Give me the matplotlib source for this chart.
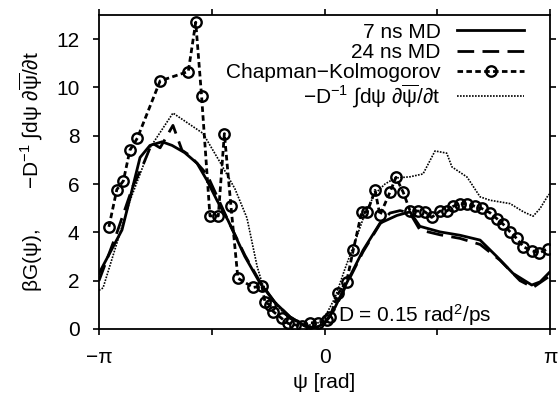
import matplotlib
matplotlib.use("Agg")
import matplotlib.pyplot as plt
import numpy as np

plt.rcParams["font.family"] = ["Liberation Sans", "DejaVu Sans"]
plt.rcParams["mathtext.fontset"] = "custom"
plt.rcParams["mathtext.rm"] = "Liberation Sans"
plt.rcParams["mathtext.it"] = "Liberation Sans"
plt.rcParams["mathtext.bf"] = "Liberation Sans:bold"

# psi in units of pi
md7_x = [-1.0, -0.898, -0.863, -0.818, -0.774, -0.72, -0.676, -0.62, -0.565,
         -0.521, -0.477, -0.428, -0.353, -0.286, -0.220, -0.153, -0.086,
         -0.042, 0.002, 0.047, 0.098, 0.171, 0.246, 0.321, 0.379, 0.423,
         0.512, 0.601, 0.690, 0.764, 0.836, 0.919, 0.956, 1.0]
md7_y = [2.3, 4.1, 5.4, 7.1, 7.6, 7.75, 7.6, 7.3, 6.86,
         6.15, 5.33, 4.5, 3.0, 1.9, 1.1, 0.5, 0.12,
         0.03, 0.25, 0.9, 1.9, 3.26, 4.38, 4.7, 4.85, 4.25,
         4.02, 3.88, 3.68, 3.0, 2.3, 1.82, 1.95, 2.37]

md24_x = [-1.0, -0.92, -0.85, -0.80, -0.765, -0.729, -0.672, -0.632, -0.60,
          -0.565, -0.521, -0.477, -0.428, -0.353, -0.286, -0.220, -0.153,
          -0.086, -0.042, 0.002, 0.047, 0.098, 0.171, 0.246, 0.290, 0.335,
          0.379, 0.423, 0.512, 0.601, 0.690, 0.778, 0.867, 0.925, 1.0]
md24_y = [2.0, 4.0, 5.9, 6.9, 7.7, 7.5, 8.43, 7.4, 7.2,
          6.86, 6.4, 5.5, 4.5, 3.05, 1.95, 1.1, 0.5,
          0.12, 0.05, 0.25, 0.85, 1.85, 3.2, 4.35, 4.8, 4.9,
          4.8, 4.1, 3.9, 3.75, 3.5, 2.85, 2.0, 1.72, 2.2]

ck_x = [-0.956, -0.921, -0.892, -0.863, -0.830, -0.729, -0.604, -0.571,
        -0.545, -0.508, -0.471, -0.444, -0.415, -0.384, -0.316, -0.278,
        -0.264, -0.242, -0.227, -0.190, -0.161, -0.131, -0.101, -0.064,
        -0.027, 0.010, 0.024, 0.061, 0.098, 0.128, 0.165, 0.190, 0.224,
        0.246, 0.290, 0.317, 0.349, 0.379, 0.416, 0.446, 0.475, 0.512,
        0.542, 0.571, 0.601, 0.632, 0.667, 0.697, 0.734, 0.764, 0.793,
        0.823, 0.852, 0.882, 0.919, 0.953, 0.992]
ck_y = [4.23, 5.77, 6.13, 7.4, 7.9, 10.27, 10.66, 12.7,
        9.63, 4.68, 4.68, 8.09, 5.1, 2.1, 1.72, 1.78,
        1.13, 0.99, 0.72, 0.44, 0.23, 0.17, 0.14, 0.26,
        0.23, 0.37, 0.51, 1.47, 1.96, 3.29, 4.85, 4.85, 5.74,
        4.71, 5.66, 6.28, 5.66, 4.9, 4.88, 4.85, 4.62, 4.88,
        4.88, 5.08, 5.19, 5.17, 5.08, 4.99, 4.81, 4.57, 4.33,
        4.02, 3.75, 3.4, 3.24, 3.15, 3.33]

int_x = [-1.0, -0.982, -0.863, -0.774, -0.672, -0.539, -0.463, -0.397,
         -0.344, -0.299, -0.277, -0.233, -0.175, -0.109, -0.042, 0.002,
         0.047, 0.091, 0.135, 0.180, 0.224, 0.268, 0.313, 0.379, 0.437,
         0.490, 0.542, 0.565, 0.632, 0.690, 0.734, 0.823, 0.882, 0.925,
         0.956, 0.992, 1.0]
int_y = [1.6, 1.7, 5.3, 7.5, 8.94, 8.1, 6.9, 5.8,
         4.6, 2.6, 1.9, 1.2, 0.6, 0.2, 0.15, 0.5,
         1.3, 2.5, 3.6, 4.8, 5.6, 6.0, 6.25, 6.3, 6.42,
         7.37, 7.28, 6.71, 6.29, 5.47, 5.33, 5.19, 4.85, 4.67,
         4.99, 5.54, 5.6]

labels = ["7 ns MD", "24 ns MD", "Chapman\u2212Kolmogorov",
          "\u2212D$^{\u22121}$ \u222bd\u03c8 \u2202$\\overline{\\psi}$/\u2202t"]

fs = 15

fig = plt.figure(figsize=(5.58, 4.05), dpi=100)
ax = fig.add_axes([0.1774, 0.1877, 0.8083, 0.7753])

ax.plot(np.array(md7_x) * np.pi, md7_y, color="black", lw=2.0,
        label=labels[0])
ax.plot(np.array(md24_x) * np.pi, md24_y, color="black", lw=2.0,
        dashes=(6, 3), label=labels[1])
ax.plot(np.array(ck_x) * np.pi, ck_y, color="black", lw=2.0,
        dashes=(2, 1.2), marker="o", ms=7.5, mfc="none", mew=1.7,
        label=labels[2])
ax.plot(np.array(int_x) * np.pi, int_y, color="black", lw=1.2,
        ls=(0, (1, 0.8)), label=labels[3])

ax.set_xlim(-np.pi, np.pi)
ax.set_ylim(0, 13)
ax.set_xticks([-np.pi, -np.pi/2, 0, np.pi/2, np.pi],
              ["\u2212\u03c0", "", "0", "", "\u03c0"])
ax.set_yticks([0, 2, 4, 6, 8, 10, 12])
ax.tick_params(direction="out", length=4, width=1.2, labelsize=fs,
               pad=10, top=True, right=True)
for s in ax.spines.values():
    s.set_linewidth(1.3)

ax.set_xlabel("\u03c8 [rad]", fontsize=fs, labelpad=4)
ax.set_ylabel("\u03b2G(\u03c8),       \u2212D$^{\u22121}$ \u222bd\u03c8 "
              "\u2202$\\overline{\\psi}$/\u2202t", fontsize=fs, labelpad=8)

ax.text(0.06 * np.pi, 0.02, "D = 0.15 rad$^2$/ps", fontsize=fs,
        ha="left", va="bottom")

ax.legend(loc="upper right", bbox_to_anchor=(0.97, 1.015), frameon=False,
          markerfirst=False, fontsize=fs, handlelength=3.2,
          handletextpad=0.8, labelspacing=0.05, borderaxespad=0.3,
          borderpad=0.3)

fig.savefig("out.png", dpi=100)
